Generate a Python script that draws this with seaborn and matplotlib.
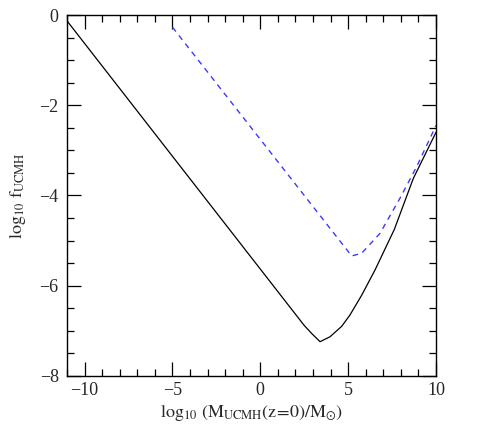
import numpy as np
import pandas as pd
import matplotlib
matplotlib.use('Agg')
import matplotlib.pyplot as plt
import seaborn as sns
from matplotlib.ticker import MultipleLocator

# log10 M_UCMH(z=0)/M_sun and log10 f_UCMH
mass_solid = [-11.0, 2.5, 2.93, 3.4, 3.97, 4.63, 5.1, 5.77, 6.53, 7.63, 8.71, 10.0]
f_solid = [-0.13, -6.88, -7.06, -7.24, -7.13, -6.9, -6.65, -6.21, -5.65, -4.75, -3.62, -2.6]

mass_dashed = [-5.0, 5.2, 5.77, 6.81, 7.95, 8.9, 10.0]
f_dashed = [-0.27, -5.34, -5.28, -4.84, -4.06, -3.36, -2.45]

solid_df = pd.DataFrame({'mass': mass_solid, 'f': f_solid})
dashed_df = pd.DataFrame({'mass': mass_dashed, 'f': f_dashed})

sns.set_style('ticks')
plt.rcParams['font.family'] = ['Liberation Serif', 'DejaVu Serif']
plt.rcParams['mathtext.fontset'] = 'stix'

fig = plt.figure(figsize=(4.91, 4.30), dpi=100)
ax = fig.add_axes([0.1365, 0.1256, 0.7515, 0.8395])

sns.lineplot(data=solid_df, x='mass', y='f', color='black', lw=0.9, sort=False, ax=ax)
sns.lineplot(data=dashed_df, x='mass', y='f', color='#3a3aff', lw=1.0, sort=False, ax=ax,
             dashes=False, linestyle=(0, (4, 3.5)))

ax.set_xlim(-11, 10)
ax.set_ylim(-8, 0)
ax.xaxis.set_major_locator(MultipleLocator(5))
ax.xaxis.set_minor_locator(MultipleLocator(1))
ax.yaxis.set_major_locator(MultipleLocator(2))
ax.yaxis.set_minor_locator(MultipleLocator(0.5))
ax.tick_params(which='both', direction='in', top=True, right=True, labelsize=13, width=0.9, color='black')
ax.tick_params(which='major', length=10)
ax.tick_params(axis='x', which='major', pad=4)
ax.tick_params(axis='y', which='major', pad=6)
ax.tick_params(which='minor', length=5)
fmt = plt.FuncFormatter(lambda v, p: f'{int(v)}'.replace('-', '\u2212'))
ax.xaxis.set_major_formatter(fmt)
ax.yaxis.set_major_formatter(fmt)
for s in ax.spines.values():
    s.set_linewidth(1.0)
    s.set_color('black')

ax.set_xlabel(r'$\mathrm{log}_{10}\ (\mathrm{M}_{\rm UCMH}(\mathrm{z\!=\!0})/\mathrm{M}_{\odot})$', fontsize=13, labelpad=3)
ax.set_ylabel(r'$\mathrm{log}_{10}\ \mathrm{f}_{\rm UCMH}$', fontsize=13, labelpad=8)

fig.savefig('out.png', dpi=100)
